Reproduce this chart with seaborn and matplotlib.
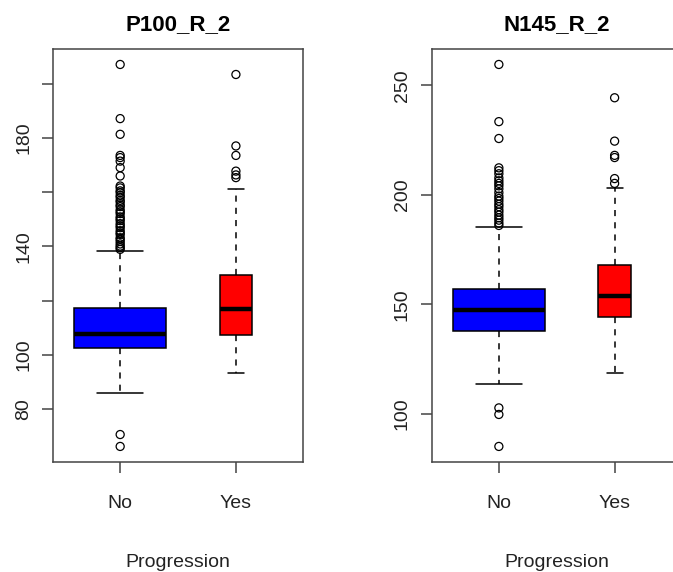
import matplotlib
matplotlib.use('Agg')
import matplotlib.pyplot as plt
import numpy as np
import pandas as pd
import seaborn as sns

sns.set_style('white')
plt.rcParams['font.family'] = ['Liberation Sans', 'DejaVu Sans']

##########
#  Data  #
##########

groups = ['No', 'Yes']
box_colors = ['#0000ff', '#ff0000']
box_widths = [0.8, 0.28]   # varwidth: No group is much larger

# whisker low, Q1, median, Q3, whisker high
p100_no_box = [86.0, 102.4, 107.8, 117.1, 138.3]
p100_yes_box = [93.3, 107.3, 117.0, 129.5, 161.2]
n145_no_box = [113.7, 137.8, 147.5, 157.2, 185.3]
n145_yes_box = [118.7, 144.2, 154.0, 167.8, 203.2]

# outliers
p100_no_out = [207.2, 187.2, 181.4, 173.6, 172.8, 171.5, 169.1, 166.0,
               162.3, 161.6, 160.5, 159.9, 158.8, 158.1, 157.0, 156.4,
               155.3, 154.7, 153.5, 152.8, 152.1, 150.9, 150.2, 149.5,
               148.4, 147.6, 146.9, 145.8, 145.0, 144.4, 143.2, 142.6,
               141.8, 140.9, 140.1, 139.5, 138.9, 70.5, 66.1]
p100_yes_out = [203.5, 177.1, 173.6, 167.8, 166.4, 165.4]
n145_no_out = [259.5, 233.4, 225.7, 212.3, 211.0, 209.6, 207.7, 206.4,
               205.2, 204.1, 202.7, 201.0, 199.4, 198.3, 197.1, 195.7,
               194.6, 193.2, 192.1, 190.7, 189.5, 188.4, 187.1, 186.0,
               102.7, 99.7, 85.1]
n145_yes_out = [244.3, 224.5, 218.0, 217.0, 207.4, 205.2]

p100_ticks = [80, 100, 120, 140, 160, 180, 200]
p100_ticklabels = ['80', '100', '', '140', '', '180', '']
n145_ticks = [100, 150, 200, 250]
n145_ticklabels = ['100', '150', '200', '250']

###############
# Plot panels #
###############

fig = plt.figure(figsize=(6.73, 5.72), dpi=100)
ax1 = fig.add_axes([0.0788, 0.1928, 0.3715, 0.7212])
ax2 = fig.add_axes([0.6415, 0.1928, 0.3715, 0.7212])

frame_col = '#444444'
text_col = '#222222'


def draw_panel(ax, boxes, outs, title, ticks, ticklabels):
    for grp, vals, col, w in zip(groups, boxes, box_colors, box_widths):
        df = pd.DataFrame({'Progression': grp, 'value': vals})
        sns.boxplot(data=df, x='Progression', y='value', order=groups,
                    width=w, color=col, saturation=1, whis=(0, 100),
                    linecolor='black', linewidth=1.1, showfliers=False,
                    medianprops=dict(linewidth=3.2, color='black'),
                    whiskerprops=dict(linestyle=(0, (4, 4)), linewidth=1.1),
                    capprops=dict(linewidth=1.1), ax=ax)
    out_df = pd.DataFrame({
        'Progression': [groups[0]] * len(outs[0]) + [groups[1]] * len(outs[1]),
        'value': outs[0] + outs[1]})
    sns.stripplot(data=out_df, x='Progression', y='value', order=groups,
                  jitter=False, size=5.8, color='black', facecolor='none',
                  edgecolor='black', linewidth=0.9, ax=ax, zorder=4)
    for coll in ax.collections:
        coll.set_facecolor('none')

    allv = boxes[0] + boxes[1] + outs[0] + outs[1]
    lo, hi = min(allv), max(allv)
    pad = 0.04 * (hi - lo)
    ax.set_ylim(lo - pad, hi + pad)
    ax.set_xlim(-0.58, 1.58)

    ax.set_yticks(ticks)
    ax.set_yticklabels(ticklabels, rotation=90, va='center')
    ax.set_title(title, fontsize=16, fontweight='bold', pad=14, color='black')
    ax.set_xlabel('Progression', fontsize=14, labelpad=30, color=text_col)
    ax.set_ylabel('')
    ax.tick_params(axis='both', direction='out', length=8, width=1.1,
                   color=frame_col, labelsize=14, labelcolor=text_col,
                   bottom=True, left=True)
    ax.tick_params(axis='x', pad=16)
    ax.tick_params(axis='y', pad=7)
    for sp in ax.spines.values():
        sp.set_visible(True)
        sp.set_color(frame_col)
        sp.set_linewidth(1.1)


draw_panel(ax1, [p100_no_box, p100_yes_box], [p100_no_out, p100_yes_out],
           'P100_R_2', p100_ticks, p100_ticklabels)
draw_panel(ax2, [n145_no_box, n145_yes_box], [n145_no_out, n145_yes_out],
           'N145_R_2', n145_ticks, n145_ticklabels)

fig.savefig('out.png', dpi=100)
